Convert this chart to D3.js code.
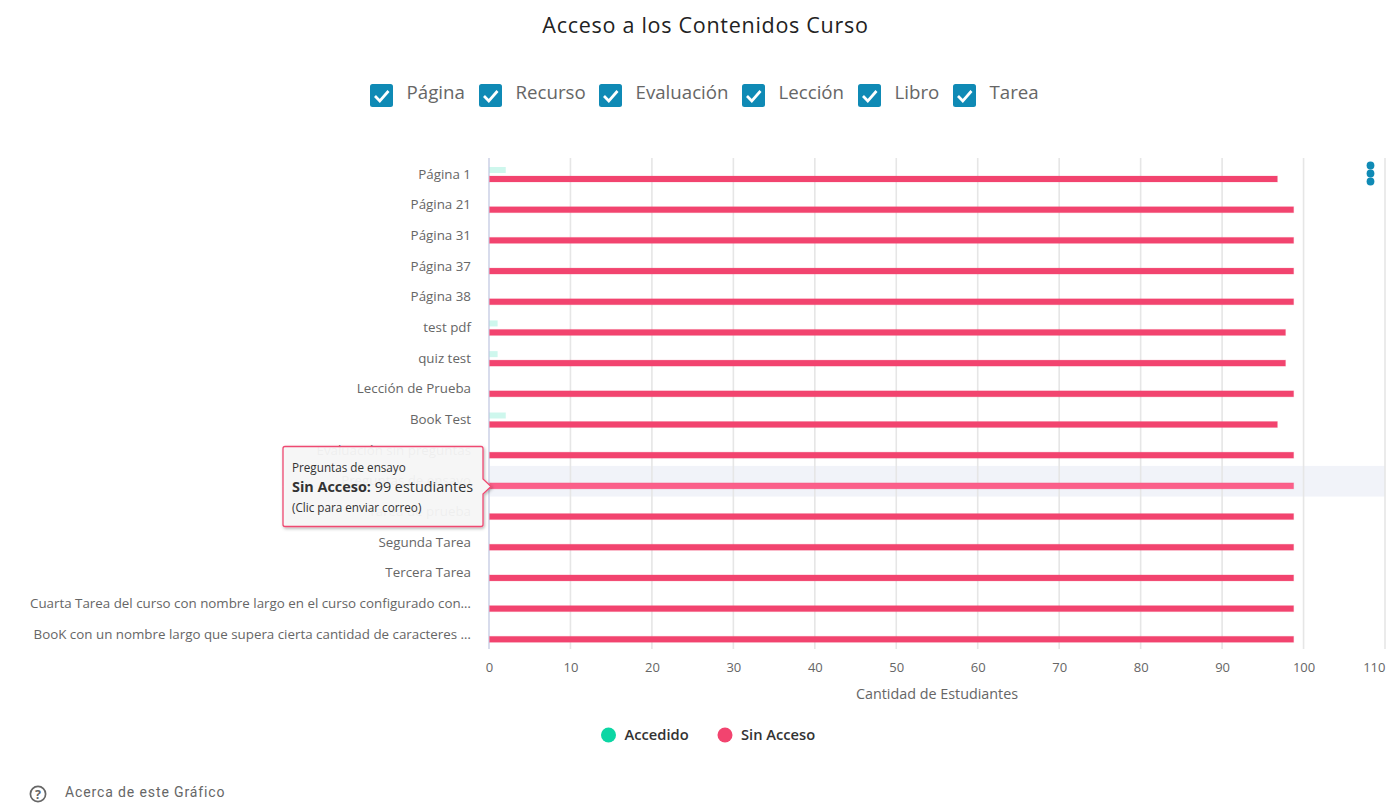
<!DOCTYPE html>
<html><head><meta charset="utf-8">
<script src="https://cdn.jsdelivr.net/npm/d3@7"></script>
<style>html,body{margin:0;padding:0;background:#fff;overflow:hidden}svg{display:block;font-family:"Open Sans","Noto Sans",sans-serif}</style>
</head><body><svg id="c" width="1398" height="809"></svg>
<script>
const categories=["Página 1","Página 21","Página 31","Página 37","Página 38","test pdf","quiz test","Lección de Prueba","Book Test","Evaluación sin preguntas","Preguntas de ensayo","Tarea de prueba","Segunda Tarea","Tercera Tarea","Cuarta Tarea del curso con nombre largo en el curso configurado con…","BooK con un nombre largo que supera cierta cantidad de caracteres …"];
const accedido=[2,0,0,0,0,1,1,0,2,0,0,0,0,0,0,0];
const sinAcceso=[97,99,99,99,99,98,98,99,97,99,99,99,99,99,99,99];
const xTicks=[0,10,20,30,40,50,60,70,80,90,100,110];
const filters=["Página","Recurso","Evaluación","Lección","Libro","Tarea"];
const filterX=[370,479,599,742,858,953];
const legendItems=[["Accedido","#0cd6a4",608.5],["Sin Acceso","#f2446f",725]];

const svg=d3.select("#c");
const x=d3.scaleLinear().domain([0,110]).range([489,1385]);
const xBar=d3.scaleLinear().domain([0,110]).range([489,1382.5]);
const y=d3.scaleBand().domain(d3.range(categories.length)).range([158,649]);
const bandH=y.bandwidth();

svg.append("text").attr("x",705.5).attr("y",33).attr("text-anchor","middle").attr("font-size",21.5).attr("letter-spacing",.72).attr("fill","#222").text("Acceso a los Contenidos Curso");

// filter checkboxes
filters.forEach((f,i)=>{
  const g=svg.append("g").attr("transform",`translate(${filterX[i]},84)`);
  g.append("rect").attr("width",23).attr("height",23).attr("rx",2.5).attr("fill","#0f8ab5");
  g.append("path").attr("d","M5 12 L9.8 17 L18.5 7").attr("fill","none").attr("stroke","#fff").attr("stroke-width",2.7);
  g.append("text").attr("x",36.5).attr("y",15).attr("font-size",18.7).attr("fill","#666").text(f);
});

// highlighted row
svg.append("rect").attr("x",x(0)).attr("y",y(10)+1).attr("width",x(110)-x(0)).attr("height",bandH).attr("fill","#f1f3f9");

// gridlines
svg.append("g").selectAll("line").data(xTicks).join("line")
  .attr("x1",d=>x(d)).attr("x2",d=>x(d)).attr("y1",158).attr("y2",649)
  .attr("stroke",d=>d===0?"#d8dcec":"#e6e6e6").attr("stroke-width",d=>d===0?2:1.6);

// bars
svg.append("g").selectAll("rect").data(accedido).join("rect")
  .attr("x",xBar(0)+.5).attr("y",(d,i)=>y(i)+9).attr("height",6)
  .attr("width",d=>xBar(d)-xBar(0)).attr("fill","#0cd6a4").attr("fill-opacity",.2);
svg.append("g").selectAll("rect").data(sinAcceso).join("rect")
  .attr("x",xBar(0)+.5).attr("y",(d,i)=>y(i)+18).attr("height",6)
  .attr("width",d=>xBar(d)-xBar(0))
  .attr("fill",(d,i)=>i===10?"#fb5f8a":"#f2446f")
  .attr("stroke","#f2446f").attr("stroke-opacity",.2).attr("stroke-width",1);

// category labels
svg.append("g").selectAll("text").data(categories).join("text")
  .attr("x",471).attr("y",(d,i)=>y(i)+20.5).attr("text-anchor","end")
  .attr("font-size",13.35).attr("fill","#666").text(d=>d);

// x axis
const ax=svg.append("g").attr("transform","translate(0,649)").call(d3.axisBottom(x).tickValues(xTicks).tickSize(0).tickPadding(14));
ax.select(".domain").remove();
ax.selectAll("text").attr("font-size",13).attr("font-family",'"Open Sans"').attr("fill","#666")
  .attr("text-anchor",d=>d===110?"end":"middle");
svg.append("text").attr("x",937).attr("y",699).attr("text-anchor","middle").attr("font-size",14.35).attr("fill","#666").text("Cantidad de Estudiantes");

// menu dots
svg.append("g").selectAll("circle").data([166,174,182]).join("circle").attr("cx",1370.5).attr("cy",d=>d-.5).attr("r",3.9).attr("fill","#0f8ab5");

// legend
legendItems.forEach(([t,c,cx])=>{
  svg.append("circle").attr("cx",cx).attr("cy",735).attr("r",7.5).attr("fill",c);
  svg.append("text").attr("x",cx+16).attr("y",740).attr("font-size",14.7).attr("font-weight",600).attr("fill","#333").text(t);
});

// about
const ab=svg.append("g").attr("transform","translate(38,794)");
ab.append("circle").attr("r",7.6).attr("fill","none").attr("stroke","#666").attr("stroke-width",1.7);
ab.append("text").attr("y",4.5).attr("text-anchor","middle").attr("font-size",12.5).attr("font-weight",700).attr("fill","#666").text("?");
svg.append("text").attr("x",65).attr("y",797).attr("font-family","Roboto").attr("font-size",14).attr("letter-spacing",.88).attr("fill","#666").text("Acerca de este Gráfico");

// tooltip
const defs=svg.append("defs");
const fl=defs.append("filter").attr("id","sh").attr("x","-10%").attr("y","-10%").attr("width","125%").attr("height","125%");
fl.append("feDropShadow").attr("dx",1).attr("dy",1.5).attr("stdDeviation",1.6).attr("flood-color","#000").attr("flood-opacity",.3);
const tt=svg.append("g");
tt.append("path").attr("d","M285 446.5 H481 Q483 446.5 483 448.5 V479 L491 486.5 L483 494 V524.5 Q483 526.5 481 526.5 H285 Q283 526.5 283 524.5 V448.5 Q283 446.5 285 446.5 Z")
  .attr("fill","#f8f8f8").attr("fill-opacity",.92).attr("stroke","#ef4a72").attr("stroke-width",1.3).attr("filter","url(#sh)");
tt.append("text").attr("x",292).attr("y",472).attr("font-size",11.7).attr("fill","#333").text("Preguntas de ensayo");
const l2=tt.append("text").attr("x",292).attr("y",492).attr("font-size",14.4).attr("fill","#333");
l2.append("tspan").attr("font-weight",700).text("Sin Acceso:");
l2.append("tspan").text(" "+sinAcceso[10]+" estudiantes");
tt.append("text").attr("x",292).attr("y",512).attr("font-size",11.7).attr("fill","#333").text("(Clic para enviar correo)");
</script></body></html>
